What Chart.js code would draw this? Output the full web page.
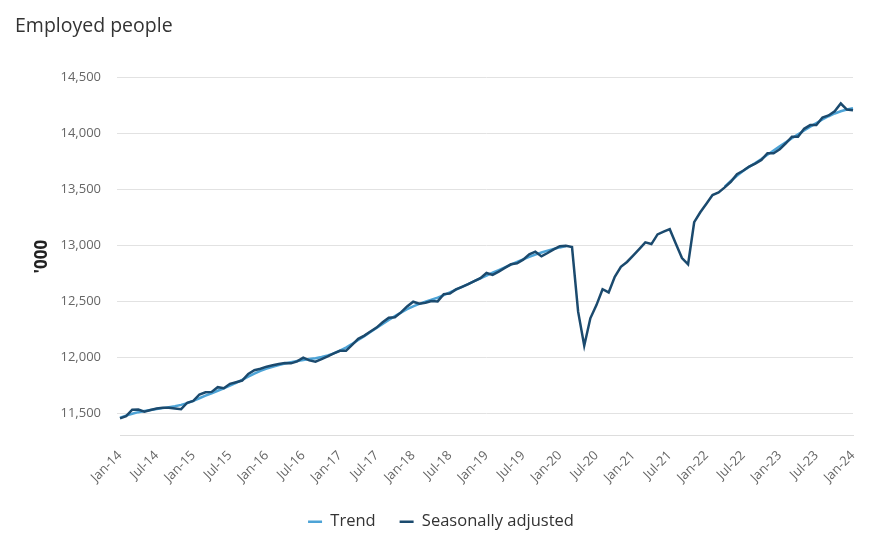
<!DOCTYPE html>
<html>
<head>
  <meta charset="UTF-8">
  <title>Employed people</title>
  <script src="https://cdn.jsdelivr.net/npm/chart.js"></script>
  <style>
    body {
      margin: 0;
      background: #ffffff;
      font-family: 'Open Sans', sans-serif;
    }
    #wrap {
      width: 882px;
      height: 541px;
    }
  </style>
</head>
<body>
  <div id="wrap"><canvas id="chart" width="882" height="541"></canvas></div>

  <script>
    // monthly, Jan-14 .. Jan-24
    const monthNames = ['Jan', 'Feb', 'Mar', 'Apr', 'May', 'Jun', 'Jul', 'Aug', 'Sep', 'Oct', 'Nov', 'Dec'];
    const years = [14, 15, 16, 17, 18, 19, 20, 21, 22, 23, 24];
    const months = [];
    years.forEach(y => monthNames.forEach(m => months.push(m + '-' + y)));
    months.length = 121;

    // '000 persons
    const seasonallyAdjusted = [
      11456, 11476, 11533, 11535, 11515, 11530, 11544, 11550, 11550, 11544, 11538, 11595,
      11612, 11669, 11689, 11692, 11734, 11725, 11764, 11778, 11793, 11852, 11885, 11899,
      11917, 11929, 11941, 11950, 11947, 11964, 11997, 11973, 11962, 11985, 12009, 12035,
      12059, 12059, 12112, 12166, 12195, 12231, 12266, 12314, 12355, 12358, 12402, 12455,
      12497, 12479, 12488, 12503, 12500, 12565, 12571, 12607, 12630, 12654, 12681, 12707,
      12754, 12736, 12766, 12799, 12831, 12840, 12873, 12920, 12944, 12902, 12932, 12965,
      12993, 12997, 12985, 12408, 12104, 12349, 12467, 12609, 12580, 12719, 12808, 12852,
      12909, 12967, 13027, 13012, 13098, 13122, 13145, 13015, 12887, 12831, 13207, 13296,
      13372, 13450, 13473, 13518, 13568, 13636, 13666, 13704, 13731, 13763, 13823, 13823,
      13858, 13912, 13970, 13970, 14041, 14074, 14074, 14142, 14160, 14198, 14267, 14213,
      14207
    ];

    // trend suspended Mar-20 .. Mar-22
    const trend = [
      11462, 11480, 11497, 11511, 11522, 11531, 11539, 11547, 11555, 11564, 11576, 11592,
      11612, 11635, 11658, 11680, 11702, 11724, 11747, 11772, 11800, 11829, 11856, 11880,
      11900, 11917, 11932, 11945, 11957, 11968, 11977, 11985, 11993, 12003, 12017, 12036,
      12060, 12088, 12120, 12155, 12190, 12226, 12262, 12298, 12334, 12368, 12400, 12430,
      12456, 12478, 12497, 12515, 12534, 12556, 12580, 12605, 12630, 12655, 12680, 12706,
      12731, 12756, 12780, 12804, 12828, 12852, 12876, 12898, 12918, 12936, 12953, 12968,
      12982, 12994, null, null, null, null, null, null, null, null, null, null,
      null, null, null, null, null, null, null, null, null, null, null, null,
      null, null, null, 13525, 13575, 13622, 13664, 13701, 13736, 13772, 13810, 13848,
      13884, 13920, 13956, 13991, 14026, 14060, 14092, 14124, 14153, 14178, 14198, 14213,
      14224
    ];

    const yTicks = [11500, 12000, 12500, 13000, 13500, 14000, 14500];

    new Chart(document.getElementById('chart'), {
      type: 'line',
      data: {
        labels: months,
        datasets: [
          {
            label: 'Trend',
            data: trend,
            borderColor: '#4da3d6',
            backgroundColor: '#4da3d6',
            borderWidth: 2.5,
            pointRadius: 0,
            spanGaps: false,
            order: 2
          },
          {
            label: 'Seasonally adjusted',
            data: seasonallyAdjusted,
            borderColor: '#1b4a6e',
            backgroundColor: '#1b4a6e',
            borderWidth: 2.5,
            pointRadius: 0,
            order: 1
          }
        ]
      },
      options: {
        responsive: false,
        animation: false,
        layout: {
          padding: { left: 15, right: 15, top: 0, bottom: 1 }
        },
        plugins: {
          title: {
            display: true,
            text: 'Employed people',
            align: 'start',
            color: '#333333',
            font: { family: 'Open Sans', size: 19.5, weight: 'normal' },
            padding: { top: 15, bottom: 39 }
          },
          legend: {
            position: 'bottom',
            labels: {
              color: '#333333',
              font: { family: 'Open Sans', size: 16.5 },
              usePointStyle: true,
              pointStyle: 'line',
              pointStyleWidth: 14,
              padding: 24,
              sort: (a, b) => a.datasetIndex - b.datasetIndex
            }
          },
          tooltip: { enabled: false }
        },
        scales: {
          x: {
            grid: { display: false },
            border: { display: true, color: '#dddddd', width: 1 },
            ticks: {
              autoSkip: false,
              minRotation: 45,
              maxRotation: 45,
              color: '#666666',
              font: { family: 'Open Sans', size: 13 },
              padding: 4,
              callback: function (value, index) {
                return index % 6 === 0 ? this.getLabelForValue(value) : '';
              }
            }
          },
          y: {
            min: 11300,
            max: 14500,
            afterBuildTicks: scale => {
              scale.ticks = yTicks.map(v => ({ value: v }));
            },
            afterFit: scale => { scale.width = 105; },
            grid: { color: '#e2e2e2', tickLength: 3 },
            border: { display: false },
            title: {
              display: true,
              text: "'000",
              color: '#222222',
              font: { family: 'Open Sans', size: 17, weight: 'bold' },
              padding: { top: 17, bottom: 0 }
            },
            ticks: {
              color: '#666666',
              font: { family: 'Open Sans', size: 13 },
              padding: 16,
              callback: v => v.toLocaleString('en-US')
            }
          },
          yRight: {
            position: 'right',
            display: true,
            grid: { display: false },
            border: { display: false },
            ticks: { display: false },
            afterFit: scale => { scale.width = 14; }
          }
        }
      }
    });
  </script>
</body>
</html>
